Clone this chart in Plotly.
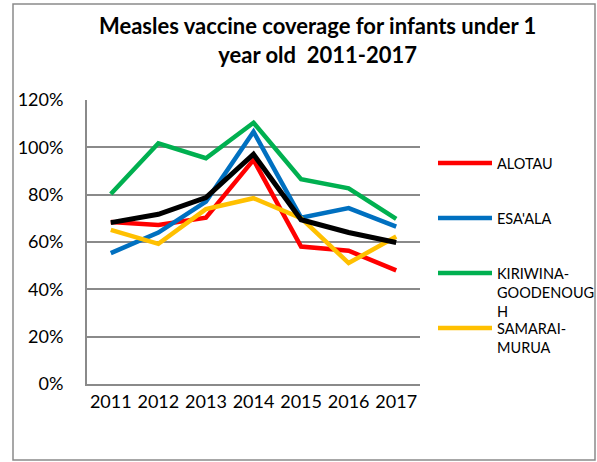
import plotly.graph_objects as go

years = ["2011", "2012", "2013", "2014", "2015", "2016", "2017"]

alotau = [0.684, 0.672, 0.703, 0.947, 0.581, 0.563, 0.480]
esaala = [0.553, 0.640, 0.771, 1.066, 0.703, 0.743, 0.665]
kiriwina = [0.803, 1.017, 0.954, 1.104, 0.865, 0.827, 0.698]
samarai = [0.651, 0.592, 0.739, 0.785, 0.701, 0.511, 0.623]
average = [0.682, 0.717, 0.788, 0.971, 0.694, 0.640, 0.598]

series_names = ["ALOTAU", "ESA'ALA", "KIRIWINA-<br>GOODENOUG<br>H", "SAMARAI-<br>MURUA"]
series_values = [alotau, esaala, kiriwina, samarai]
series_colors = ["#ff0000", "#0070c0", "#00b050", "#ffc000"]

title_text = "<b>Measles vaccine coverage for infants under 1<br>year old  2011-2017</b>"

W, H = 597, 462
L, R, T, B = 87, 420, 100, 384
FONT = "Lato"


def px_x(px):
    return (px - L) / (R - L)


def px_y(py):
    return (B - py) / (B - T)


fig = go.Figure()

for name, vals, col in zip(series_names, series_values, series_colors):
    fig.add_trace(go.Scatter(x=years, y=vals, mode="lines", name=name,
                             line=dict(color=col, width=4.5), showlegend=False))

fig.add_trace(go.Scatter(x=years, y=average, mode="lines", name="Average",
                         line=dict(color="#000000", width=5), showlegend=False))

shapes = []
annotations = []

# outer chart frame
shapes.append(dict(type="rect", xref="paper", yref="paper",
                   x0=px_x(13), x1=px_x(595), y0=px_y(460), y1=px_y(4),
                   line=dict(color="#8a8a8a", width=1.5), layer="below"))

# chart title
annotations.append(dict(xref="paper", yref="paper", x=px_x(317), y=px_y(40),
                        xanchor="center", yanchor="middle", align="center",
                        text=title_text, showarrow=False,
                        font=dict(family=FONT, size=22, color="#000000")))

# legend entries
legend_y = [163, 218, 273, 328]
for name, col, ly in zip(series_names, series_colors, legend_y):
    shapes.append(dict(type="line", xref="paper", yref="paper",
                       x0=px_x(438), x1=px_x(492), y0=px_y(ly), y1=px_y(ly),
                       line=dict(color=col, width=4.5)))
    annotations.append(dict(xref="paper", yref="paper", x=px_x(495), y=px_y(ly - 10.5),
                            xanchor="left", yanchor="top", align="left",
                            text=name, showarrow=False,
                            font=dict(family=FONT, size=14.5, color="#000000")))

fig.update_layout(
    width=W, height=H,
    margin=dict(l=L, r=W - R, t=T, b=H - B),
    paper_bgcolor="white", plot_bgcolor="white",
    xaxis=dict(showgrid=False, showline=True, linecolor="#8a8a8a", linewidth=2,
               ticks="", tickfont=dict(family=FONT, size=18, color="#000000"),
               range=[-0.5, 6.5], fixedrange=True),
    yaxis=dict(range=[0, 1.2], dtick=0.2, tickformat=".0%", showgrid=True,
               gridcolor="#8a8a8a", gridwidth=2, showline=True, linecolor="#8a8a8a",
               linewidth=2, ticks="", ticklen=0, zeroline=False,
               tickfont=dict(family=FONT, size=18, color="#000000"),
               ticklabelstandoff=18, fixedrange=True),
    shapes=shapes,
    annotations=annotations,
    showlegend=False,
)

fig.write_html("out.html")
